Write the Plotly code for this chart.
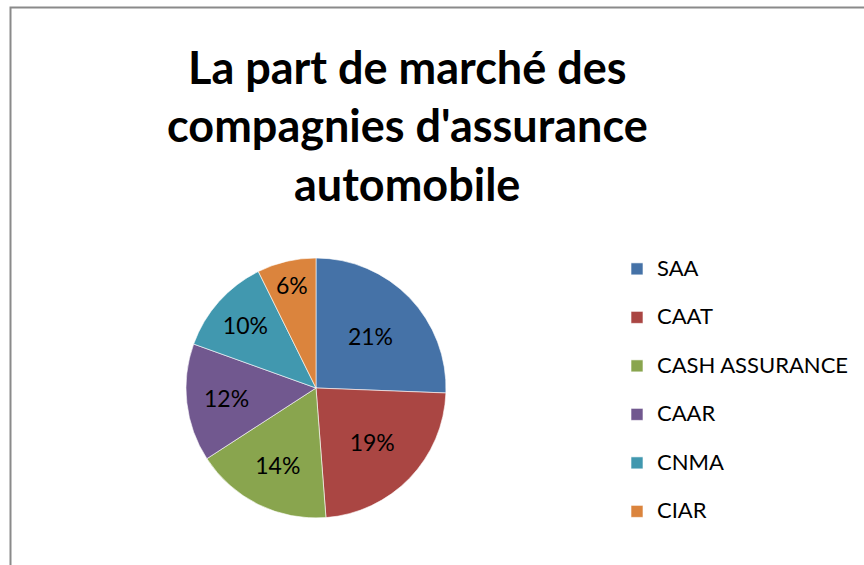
import plotly.graph_objects as go

# part de marche (%) par compagnie
compagnies = ['SAA', 'CAAT', 'CASH ASSURANCE', 'CAAR', 'CNMA', 'CIAR']
parts = [21, 19, 14, 12, 10, 6]
couleurs = ['#4572A7', '#AA4643', '#89A54E', '#71588F', '#4198AF', '#DB843D']
titre = ['La part de marché des', "compagnies d'assurance", 'automobile']

W, H = 864, 565

# legend labels: bigger line box than the visible text, to space the entries like the original
noms_legende = ['<span style="font-size:22px">%s</span><br> ' % c for c in compagnies]

fig = go.Figure()
fig.add_trace(go.Pie(
    labels=noms_legende,
    values=parts,
    text=['%d%%' % p for p in parts],
    textinfo='text',
    textposition='inside',
    insidetextorientation='horizontal',
    textfont=dict(family='Lato', size=23, color='black'),
    marker=dict(colors=couleurs, line=dict(color='white', width=0.6)),
    sort=False,
    direction='clockwise',
    rotation=0,
    hoverinfo='skip',
    domain=dict(x=[186/W, 446/W], y=[1-518/H, 1-258/H]),
))

for i, ligne in enumerate(titre):
    fig.add_annotation(text='<b>%s</b>' % ligne, x=407/W, y=1-(66.5+58.5*i)/H,
                       xref='paper', yref='paper', xanchor='center', yanchor='middle',
                       showarrow=False, font=dict(family='Lato', size=45, color='black'))

# cadre du graphique
fig.add_shape(type='rect', xref='paper', yref='paper', x0=10.5/W, x1=1.1, y0=-0.1, y1=1-7.5/H,
              line=dict(color='#8a8a8a', width=2))

fig.update_layout(
    width=W, height=H,
    margin=dict(l=0, r=0, t=0, b=0),
    paper_bgcolor='white',
    plot_bgcolor='white',
    showlegend=True,
    legend=dict(x=617/W, y=1-251/H, xanchor='left', yanchor='top',
                font=dict(family='Lato', size=17.5, color='black'),
                valign='top', bgcolor='rgba(0,0,0,0)'),
)

fig.write_html('out.html', config={'displayModeBar': False},
               post_script="document.body.style.margin='0';")
